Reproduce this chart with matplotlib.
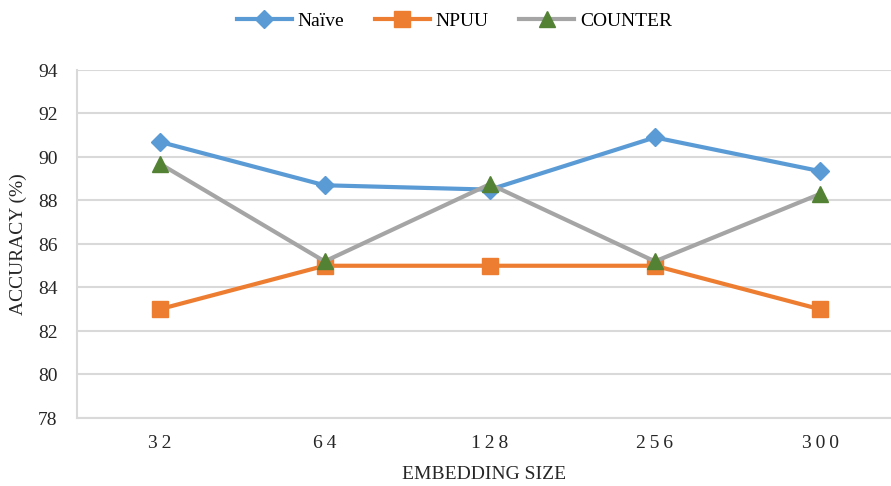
import numpy as np
import matplotlib.pyplot as plt

plt.rcParams['font.family'] = ['Liberation Serif', 'DejaVu Serif']

sizes = ["32", "64", "128", "256", "300"]
naive = [90.7, 88.7, 88.5, 90.9, 89.35]
npuu = [83.0, 85.0, 85.0, 85.0, 83.0]
counter = [89.7, 85.2, 88.75, 85.2, 88.3]

x = np.arange(len(sizes))

fig = plt.figure(figsize=(8.91, 4.86), dpi=100)
ax = fig.add_axes([77 / 891, 68 / 486, 1 - 77 / 891, 348 / 486])

ax.plot(x, naive, color="#5B9BD5", lw=3, marker="D", ms=9,
        mfc="#5B9BD5", mec="#5B9BD5", label="Naïve", zorder=3)
ax.plot(x, npuu, color="#ED7D31", lw=3, marker="s", ms=11,
        mfc="#ED7D31", mec="#ED7D31", label="NPUU", zorder=3)
ax.plot(x, counter, color="#A5A5A5", lw=3, marker="^", ms=11,
        mfc="#548235", mec="#548235", label="COUNTER", zorder=4)

ax.set_xlim(-0.5, 4.43)
ax.set_ylim(78, 94)
ax.set_yticks(np.arange(78, 95, 2))
ax.set_xticks(x)
# spaced digits like the original
ax.set_xticklabels(["\u2009".join(s) for s in sizes])
ax.tick_params(length=0, labelsize=14, colors="#262626")
ax.tick_params(axis="x", pad=12)
ax.tick_params(axis="y", pad=14)

ax.grid(axis="y", color="#D9D9D9", lw=1.5)
ax.set_axisbelow(True)
for s in ["top", "right"]:
    ax.spines[s].set_visible(False)
for s in ["left", "bottom"]:
    ax.spines[s].set_color("#D9D9D9")
    ax.spines[s].set_linewidth(1.5)

ax.set_xlabel("EMBEDDING SIZE", fontsize=14, color="#262626", labelpad=10)
ax.set_ylabel("ACCURACY (%)", fontsize=14, color="#262626", labelpad=8)

fig.legend(loc="upper center", bbox_to_anchor=(0.51, 1.01), ncol=3,
           frameon=False, fontsize=14, handlelength=2.8, columnspacing=1.6,
           handletextpad=0.3)

fig.savefig("out.png", dpi=100)
